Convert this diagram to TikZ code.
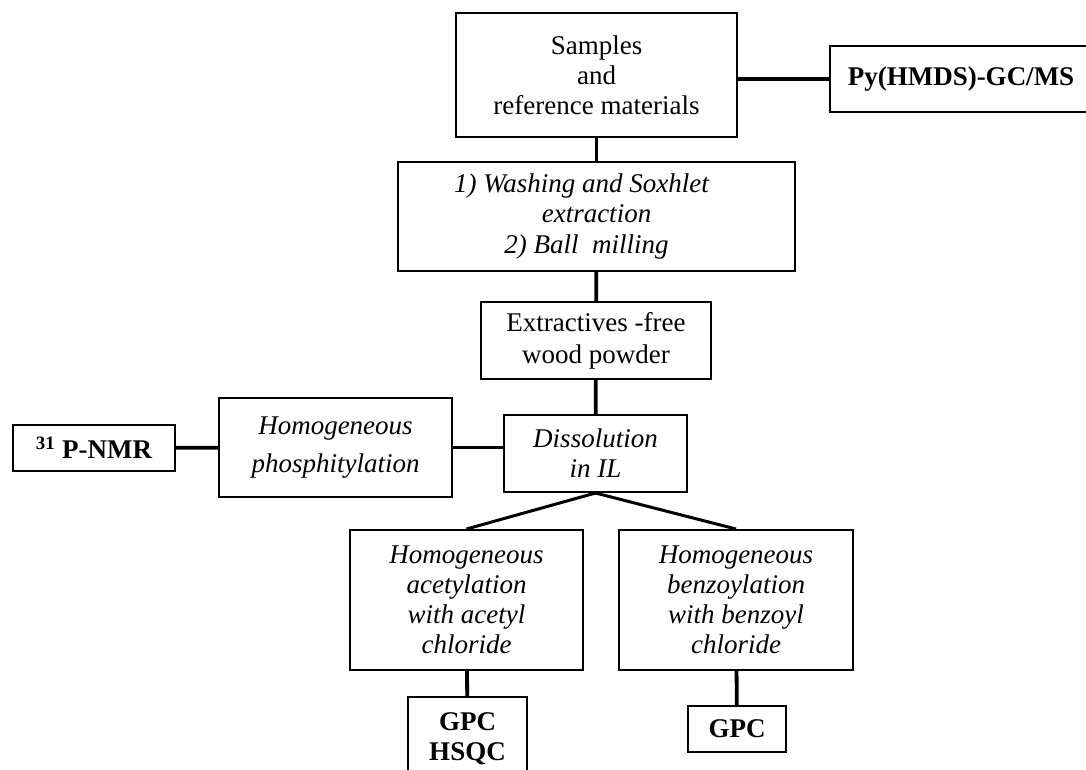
\documentclass[tikz,border=0pt]{standalone}
\usepackage{fontspec}
\setmainfont{Liberation Serif}
\usetikzlibrary{positioning}

\begin{document}
\begin{tikzpicture}[x=1pt,y=-1pt,
    box/.style={draw,line width=2pt,align=center,inner sep=0pt,
        font=\fontsize{27}{30}\selectfont},
    link/.style={line width=3.8pt}]
    \useasboundingbox (0,0) rectangle (1086,769);

    \node [box,minimum width=281pt,minimum height=124pt] (samp) at (596.5,75) {Samples\\and\\reference materials};
    \node [box,minimum width=262pt,minimum height=66pt,font=\fontsize{27}{30}\selectfont\bfseries] (py) at (961,79) {Py(HMDS)-GC/MS};
    \node [box,minimum width=397pt,minimum height=109pt,font=\fontsize{27}{30.5}\selectfont\itshape] (wash) at (596.5,216.5) {1) Washing and Soxhlet\hspace*{30pt}\\extraction\\2) Ball\ \ milling\hspace*{20pt}};
    \node [box,minimum width=230pt,minimum height=77pt,font=\fontsize{27}{32}\selectfont] (free) at (596,340.5) {Extractives -free\\wood powder};
    \node [box,minimum width=183pt,minimum height=77pt,font=\fontsize{27}{30}\selectfont\itshape] (diss) at (595.5,453.5) {Dissolution\\in IL};
    \node [box,minimum width=233pt,minimum height=99pt,font=\fontsize{27}{38}\selectfont\itshape] (phos) at (335.5,447.5) {\raisebox{-4pt}{Homogeneous}\\\raisebox{-4pt}{phosphitylation}};
    \node [box,minimum width=162pt,minimum height=46pt,font=\fontsize{27}{30}\selectfont\bfseries] (nmr) at (94,448) {\textsuperscript{31} P-NMR};
    \node [box,minimum width=233pt,minimum height=140pt,font=\fontsize{27}{30}\selectfont\itshape] (acet) at (466.5,600) {Homogeneous\\acetylation\\with acetyl\\chloride};
    \node [box,minimum width=234pt,minimum height=140pt,font=\fontsize{27}{30}\selectfont\itshape] (benz) at (736,600) {Homogeneous\\benzoylation\\with benzoyl\\chloride};
    \node [box,minimum width=119pt,minimum height=83pt,font=\fontsize{27}{30}\selectfont\bfseries] (gpchsqc) at (467.5,738.5) {GPC\\HSQC};
    \node [box,minimum width=98pt,minimum height=46pt,font=\fontsize{27}{30}\selectfont\bfseries] (gpc) at (737,729) {GPC};

    \draw [link] (py.west) -- (py.west -| samp.east);
    \draw [link] (samp) -- (wash);
    \draw [link] (wash) -- (free);
    \draw [link] (free) -- (diss);
    \draw [link] (phos.east) -- (phos.east -| diss.west);
    \draw [link] (nmr) -- (phos);
    \draw [line width=3pt] (diss.south) -- (acet.north);
    \draw [line width=3pt] (diss.south) -- (benz.north);
    \draw [link] (acet) -- (gpchsqc);
    \draw [link] (benz) -- (gpc);
\end{tikzpicture}
\end{document}
